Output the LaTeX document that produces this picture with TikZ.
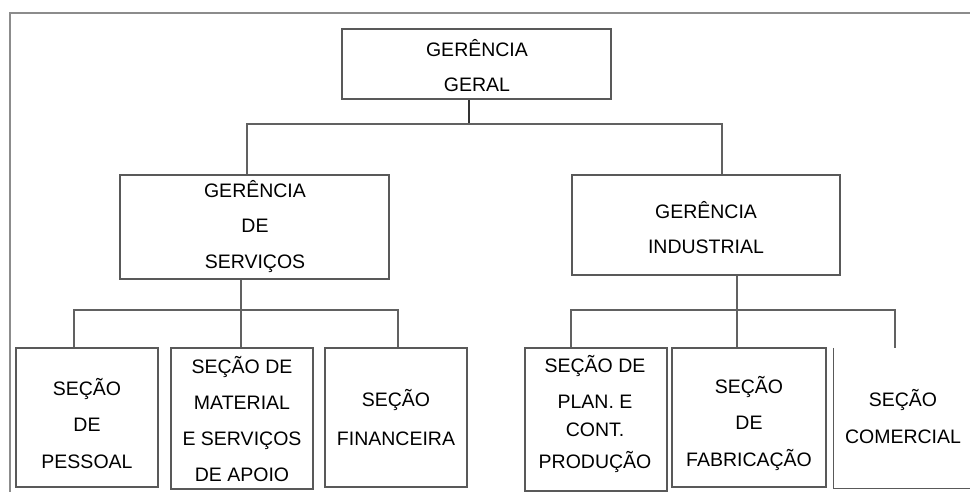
\documentclass[tikz,border=0pt]{standalone}
\usepackage{fontspec}
\setmainfont{Liberation Sans}
\begin{document}
\begin{tikzpicture}[x=1pt,y=-1pt,
  box/.style={draw=black!65, line width=1.2pt, inner sep=0pt, fill=none},
  conn/.style={draw=black!62, line width=1.2pt},
  txt/.style={align=center, inner sep=0pt, text=black},
  frame/.style={draw=black!45, line width=2pt}]
\useasboundingbox (0,0) rectangle (970,492);
% outer frame (cut by the picture edges)
\draw[frame] (10,492) -- (10,13) -- (972,13);
% boxes
\node[box, minimum width=269, minimum height=70] (geral) at (476.5,64) {};
\node[box, minimum width=269, minimum height=104] (serv) at (254.5,227) {};
\node[box, minimum width=268, minimum height=100] (ind) at (706,225) {};
\node[box, minimum width=142, minimum height=139] (pess) at (87,417.5) {};
\node[box, minimum width=142, minimum height=141] (mat) at (242,418.5) {};
\node[box, minimum width=142, minimum height=139] (fin) at (396,417.5) {};
\node[box, minimum width=142, minimum height=143] (plan) at (596,419.5) {};
\node[box, minimum width=154, minimum height=139] (fab) at (749,417.5) {};
\node[inner sep=0pt, minimum width=138, minimum height=140] (com) at (903,418) {};
\draw[box] (com.north west) -- (com.south west) -- (com.south east);
% texts
\node[txt, font={\fontsize{19.5}{35}\selectfont}] (geralt) at (477,65.5) {GERÊNCIA\\GERAL};
\node[txt, font={\fontsize{19.5}{35.5}\selectfont}] (servt) at (255,226.5) {GERÊNCIA\\DE\\SERVIÇOS};
\node[txt, font={\fontsize{19.5}{35}\selectfont}] (indt) at (706,227.5) {GERÊNCIA\\INDUSTRIAL};
\node[txt, font={\fontsize{19.5}{36.5}\selectfont}] (pesst) at (87,423.5) {SEÇÃO\\DE\\PESSOAL};
\node[txt, font={\fontsize{19.5}{36}\selectfont}] (matt) at (242,419) {SEÇÃO DE\\MATERIAL\\E SERVIÇOS\\DE APOIO};
\node[txt, font={\fontsize{19.5}{39}\selectfont}] (fint) at (396,417.5) {SEÇÃO\\FINANCEIRA};
\node[txt, font={\fontsize{19.5}{32}\selectfont}] (plant) at (595,414) {SEÇÃO DE\\[4pt]PLAN. E\\[-4pt]CONT.\\PRODUÇÃO};
\node[txt, font={\fontsize{19.5}{36.5}\selectfont}] (fabt) at (749,423.5) {SEÇÃO\\DE\\FABRICAÇÃO};
\node[txt, font={\fontsize{19.5}{37}\selectfont}] (comt) at (903,416.5) {SEÇÃO\\COMERCIAL};
% junction points
\coordinate (b1) at (469,124);
\coordinate (hL) at (247,124);
\coordinate (hR) at (722,124);
\coordinate (sa) at (74,310);
\coordinate (sb) at (241,310);
\coordinate (sc) at (398,310);
\coordinate (ra) at (571,310);
\coordinate (rb) at (737,310);
\coordinate (rc) at (895,310);
% connectors
\draw[conn, draw=black!80, line width=1.6pt] (geral.south -| b1) -- (b1);
\draw[conn] (serv.north -| hL) -- (hL) -- (hR) -- (ind.north -| hR);
\draw[conn] (pess.north -| sa) -- (sa) -- (sc) -- (fin.north -| sc);
\draw[conn] (serv.south -| sb) -- (mat.north -| sb);
\draw[conn] (plan.north -| ra) -- (ra) -- (rc) -- (com.north -| rc);
\draw[conn] (ind.south -| rb) -- (fab.north -| rb);
\end{tikzpicture}
\end{document}
